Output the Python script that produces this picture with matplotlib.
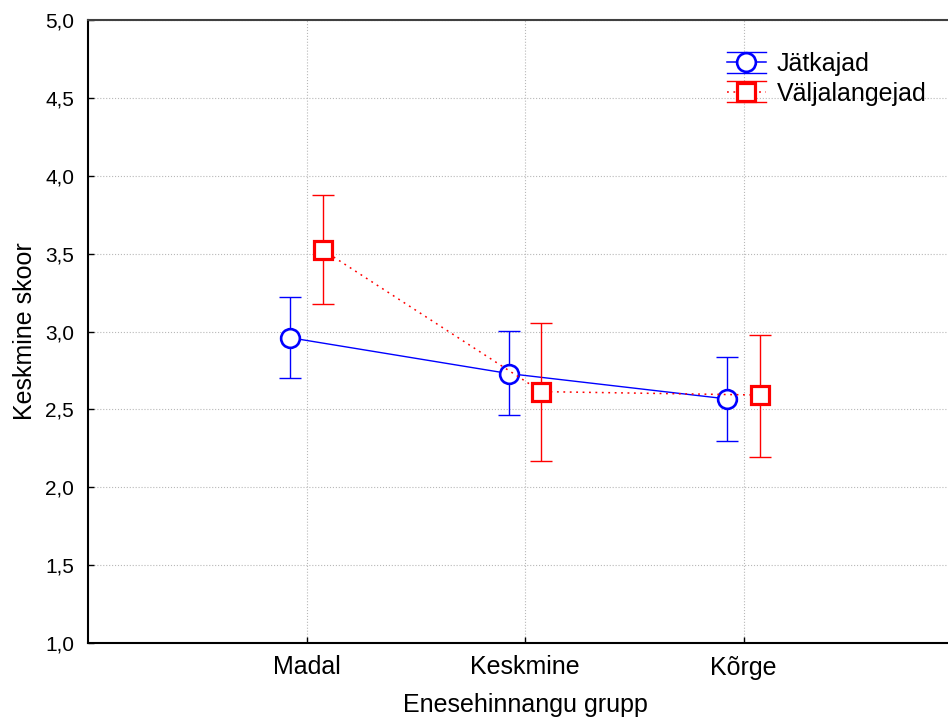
import matplotlib
matplotlib.use("Agg")
import matplotlib.pyplot as plt
from matplotlib.lines import Line2D
from matplotlib.legend_handler import HandlerBase
from matplotlib.ticker import FuncFormatter, FixedLocator

plt.rcParams['font.family'] = ['Liberation Sans', 'DejaVu Sans']

categories = ["Madal", "Keskmine", "Kõrge"]
jatk_mean = [2.96, 2.73, 2.567]
jatk_low = [2.70, 2.462, 2.295]
jatk_high = [3.222, 3.003, 2.838]
valj_mean = [3.523, 2.614, 2.592]
valj_low = [3.175, 2.170, 2.196]
valj_high = [3.874, 3.057, 2.980]
series_names = ["Jätkajad", "Väljalangejad"]
yticks = [1.0, 1.5, 2.0, 2.5, 3.0, 3.5, 4.0, 4.5, 5.0]

W, H = 948, 721
fig = plt.figure(figsize=(W / 100, H / 100), dpi=100)
ax_left, ax_top, ax_bottom = 88, 20, 643
ax_width = 874
ax = fig.add_axes([ax_left / W, 1 - ax_bottom / H, ax_width / W, (ax_bottom - ax_top) / H])

blue = "#0000ff"
red = "#ff0000"
off = 0.075
xb = [i - off for i in range(len(categories))]
xr = [i + off for i in range(len(categories))]

yerr_b = [[m - l for m, l in zip(jatk_mean, jatk_low)], [h - m for m, h in zip(jatk_mean, jatk_high)]]
yerr_r = [[m - l for m, l in zip(valj_mean, valj_low)], [h - m for m, h in zip(valj_mean, valj_high)]]

ax.errorbar(xb, jatk_mean, yerr=yerr_b, fmt='none', ecolor=blue, elinewidth=1.0,
            capsize=8, capthick=1.0, zorder=3)
ax.plot(xb, jatk_mean, color=blue, lw=1.0, marker='o', ms=13.5, mfc='white',
        mec=blue, mew=1.9, zorder=4)
ax.errorbar(xr, valj_mean, yerr=yerr_r, fmt='none', ecolor=red, elinewidth=1.0,
            capsize=8, capthick=1.0, zorder=5)
ax.plot(xr, valj_mean, color=red, lw=1.1, ls=(0, (1.2, 3.0)), marker='s', ms=13.5,
        mfc='white', mec=red, mew=2.3, zorder=6)

ax.set_xlim(-1, 3)
ax.set_ylim(1.0, 5.0)
ax.xaxis.set_major_locator(FixedLocator(range(len(categories))))
ax.set_xticklabels(categories, fontsize=18)
ax.yaxis.set_major_locator(FixedLocator(yticks))
ax.yaxis.set_major_formatter(FuncFormatter(lambda v, p: f"{v:.1f}".replace('.', ',')))
ax.tick_params(axis='y', direction='in', length=4, width=1, pad=10, labelsize=15)
ax.tick_params(axis='x', direction='in', length=4, width=1, pad=9, labelsize=18)
ax.grid(True, color='#b8b8b8', ls=':', lw=0.8)
ax.set_axisbelow(True)

for s in ['left', 'bottom']:
    ax.spines[s].set_linewidth(1.5)
    ax.spines[s].set_color('black')
ax.spines['top'].set_linewidth(1.5)
ax.spines['top'].set_color('#404040')
ax.spines['right'].set_visible(False)

ax.set_ylabel("Keskmine skoor", fontsize=18)
ax.yaxis.set_label_coords(-0.058, 0.5)
ax.set_xlabel("Enesehinnangu grupp", fontsize=18)
ax.xaxis.set_label_coords(0.5, -0.081)


class CapHandler(HandlerBase):
    def __init__(self, color, ls, marker, mew):
        super().__init__()
        self.color, self.ls, self.marker, self.mew = color, ls, marker, mew

    def create_artists(self, legend, orig_handle, xdescent, ydescent, width, height, fontsize, trans):
        yc = height / 2 - ydescent
        dy = 0.42 * fontsize
        x0, x1 = -xdescent, width - xdescent
        arts = []
        for yy in (yc + dy, yc - dy):
            arts.append(Line2D([x0, x1], [yy, yy], color=self.color, lw=1.0, transform=trans))
        arts.append(Line2D([x0, x1], [yc, yc], color=self.color, lw=1.1, ls=self.ls, transform=trans))
        arts.append(Line2D([(x0 + x1) / 2], [yc], marker=self.marker, ms=13.5, mfc='white',
                           mec=self.color, mew=self.mew, ls='none', transform=trans))
        return arts


h1 = Line2D([], [], color=blue)
h2 = Line2D([], [], color=red)
ax.legend([h1, h2], series_names, loc='upper left',
          bbox_to_anchor=((722 - ax_left) / ax_width, (ax_bottom - 47) / (ax_bottom - ax_top)),
          frameon=False, fontsize=18, handlelength=1.55, handletextpad=0.45, labelspacing=0.22,
          borderaxespad=0, borderpad=0.2,
          handler_map={h1: CapHandler(blue, '-', 'o', 1.9), h2: CapHandler(red, (0, (1.2, 3.0)), 's', 2.3)})

fig.savefig("out.png", dpi=100)
